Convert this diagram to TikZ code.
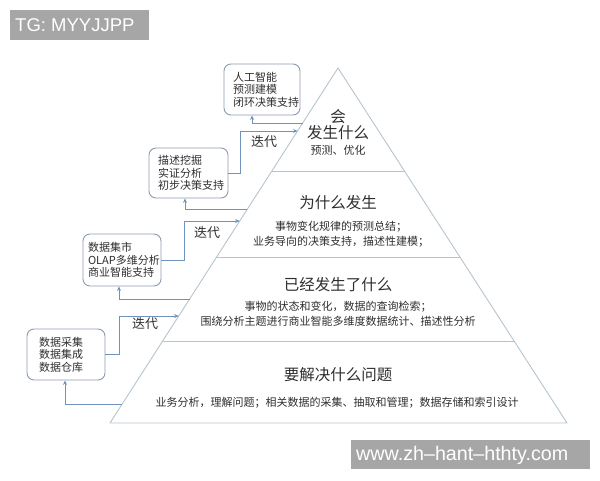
\documentclass[tikz,border=0pt]{standalone}
\usepackage{fontspec}
\setmainfont{Noto Sans CJK SC}
\newfontfamily\wmfont{Liberation Sans}
\usetikzlibrary{arrows.meta}
\definecolor{pyr}{HTML}{B4C4D0}
\definecolor{conn}{HTML}{6F93BD}
\definecolor{boxc}{HTML}{8A9BAE}
\definecolor{txt}{HTML}{2E2E2E}
\definecolor{wm}{HTML}{A6A6A6}
\begin{document}
\begin{tikzpicture}[x=1pt,y=-1pt,
  pyrline/.style={draw=pyr,line width=0.9pt},
  conline/.style={draw=conn,line width=0.9pt,-{Stealth[length=4.5pt,width=4pt]}},
  infobox/.style={draw=boxc,line width=0.9pt,rounded corners=7pt,align=left,inner ysep=0pt,
     text=txt,font=\fontsize{11}{12.6}\selectfont},
  head/.style={text=txt,font=\fontsize{15.5}{17}\selectfont,inner sep=0pt},
  body/.style={text=txt,font=\fontsize{11}{15}\selectfont,inner sep=0pt,align=center},
  iter/.style={text=txt,font=\fontsize{13}{15}\selectfont,inner sep=0pt},
  wmbox/.style={fill=wm,inner sep=0pt,anchor=north west},
  wmtext/.style={text=white,inner sep=0pt,anchor=west}]
\useasboundingbox (0,0) rectangle (600,480);
% pyramid
\coordinate (A) at (338,68);
\coordinate (BL) at (110,423);
\coordinate (BR) at (567,423);
\draw[pyrline,line join=round] (A) -- (BR) -- (BL) -- cycle;
\coordinate (d1l) at (271.8,171); \coordinate (d1r) at (404.4,171);
\coordinate (d2l) at (216.6,257); \coordinate (d2r) at (459.9,257);
\coordinate (d3l) at (162.7,341); \coordinate (d3r) at (514.1,341);
\draw[pyrline] (d1l) -- (d1r);
\draw[pyrline] (d2l) -- (d2r);
\draw[pyrline] (d3l) -- (d3r);
% pyramid texts
\node[head] (h1a) at (338,117) {会};
\node[head] (h1b) at (338,133) {发生什么};
\node[body] (b1t) at (338,150) {预测、优化};
\node[head] (h2) at (338,203) {为什么发生};
\node[body] (b2t) at (341,234) {事物变化规律的预测总结；\\业务导向的决策支持，描述性建模；};
\node[head] (h3) at (338,285) {已经发生了什么};
\node[body] (b3t) at (338,313.5) {事物的状态和变化，数据的查询检索；\\围绕分析主题进行商业智能多维度数据统计、描述性分析};
\node[head] (h4) at (338,375) {要解决什么问题};
\node[body] (b4t) at (337,403) {业务分析，理解问题；相关数据的采集、抽取和管理；数据存储和索引设计};
% side boxes
\node[infobox,text width=58pt,inner xsep=9pt,minimum height=51pt] (bx1) at (262,89.5) {人工智能\\预测建模\\闭环决策支持};
\node[infobox,text width=61pt,inner xsep=9pt,minimum height=50pt] (bx2) at (188.5,173) {描述挖掘\\实证分析\\初步决策支持};
\node[infobox,text width=68pt,inner xsep=5pt,minimum height=52pt] (bx3) at (122,260) {数据集市\\OLAP多维分析\\商业智能支持};
\node[infobox,text width=54pt,inner xsep=12pt,minimum height=51pt] (bx4) at (66,354.5) {数据采集\\数据集成\\数据仓库};
% edge points on the pyramid
\coordinate (e123) at (302.7,123);
\coordinate (e131) at (297.5,131);
\coordinate (e209) at (247.4,209);
\coordinate (e221) at (239.7,221);
\coordinate (e299) at (189.6,299);
\coordinate (e316) at (178.7,316);
\coordinate (e404) at (122.2,404);
% connectors
\draw[conline] (bx2.east) -- ([xshift=12pt]bx2.east) |- (e131);
\draw[conline] (e123) -| ([xshift=-10pt]bx1.south);
\draw[conline] (bx3.east) -- ([xshift=23pt]bx3.east) |- (e221);
\draw[conline] (e209) -| ([xshift=-3.5pt]bx2.south);
\draw[conline] (bx4.east) -- ([xshift=14pt]bx4.east) |- (e316);
\draw[conline] (e299) -| ([xshift=-3pt]bx3.south);
\draw[conline] (e404) -| ([xshift=-1pt]bx4.south);
% labels
\node[iter] (it1) at (264,142) {迭代};
\node[iter] (it2) at (207,233) {迭代};
\node[iter] (it3) at (145,324) {迭代};
% watermarks
\node[wmbox,minimum width=139pt,minimum height=30pt] (wm1) at (10,10) {};
\node[wmtext,font=\wmfont\fontsize{18.5}{20}\selectfont] (wm1t) at (15,25.5) {TG: MYYJJPP};
\node[wmbox,minimum width=239pt,minimum height=29pt] (wm2) at (351,440) {};
\node[wmtext,font=\wmfont\fontsize{19.7}{21}\selectfont] (wm2t) at (356,455) {www.zh–hant–hthty.com};
\end{tikzpicture}
\end{document}
